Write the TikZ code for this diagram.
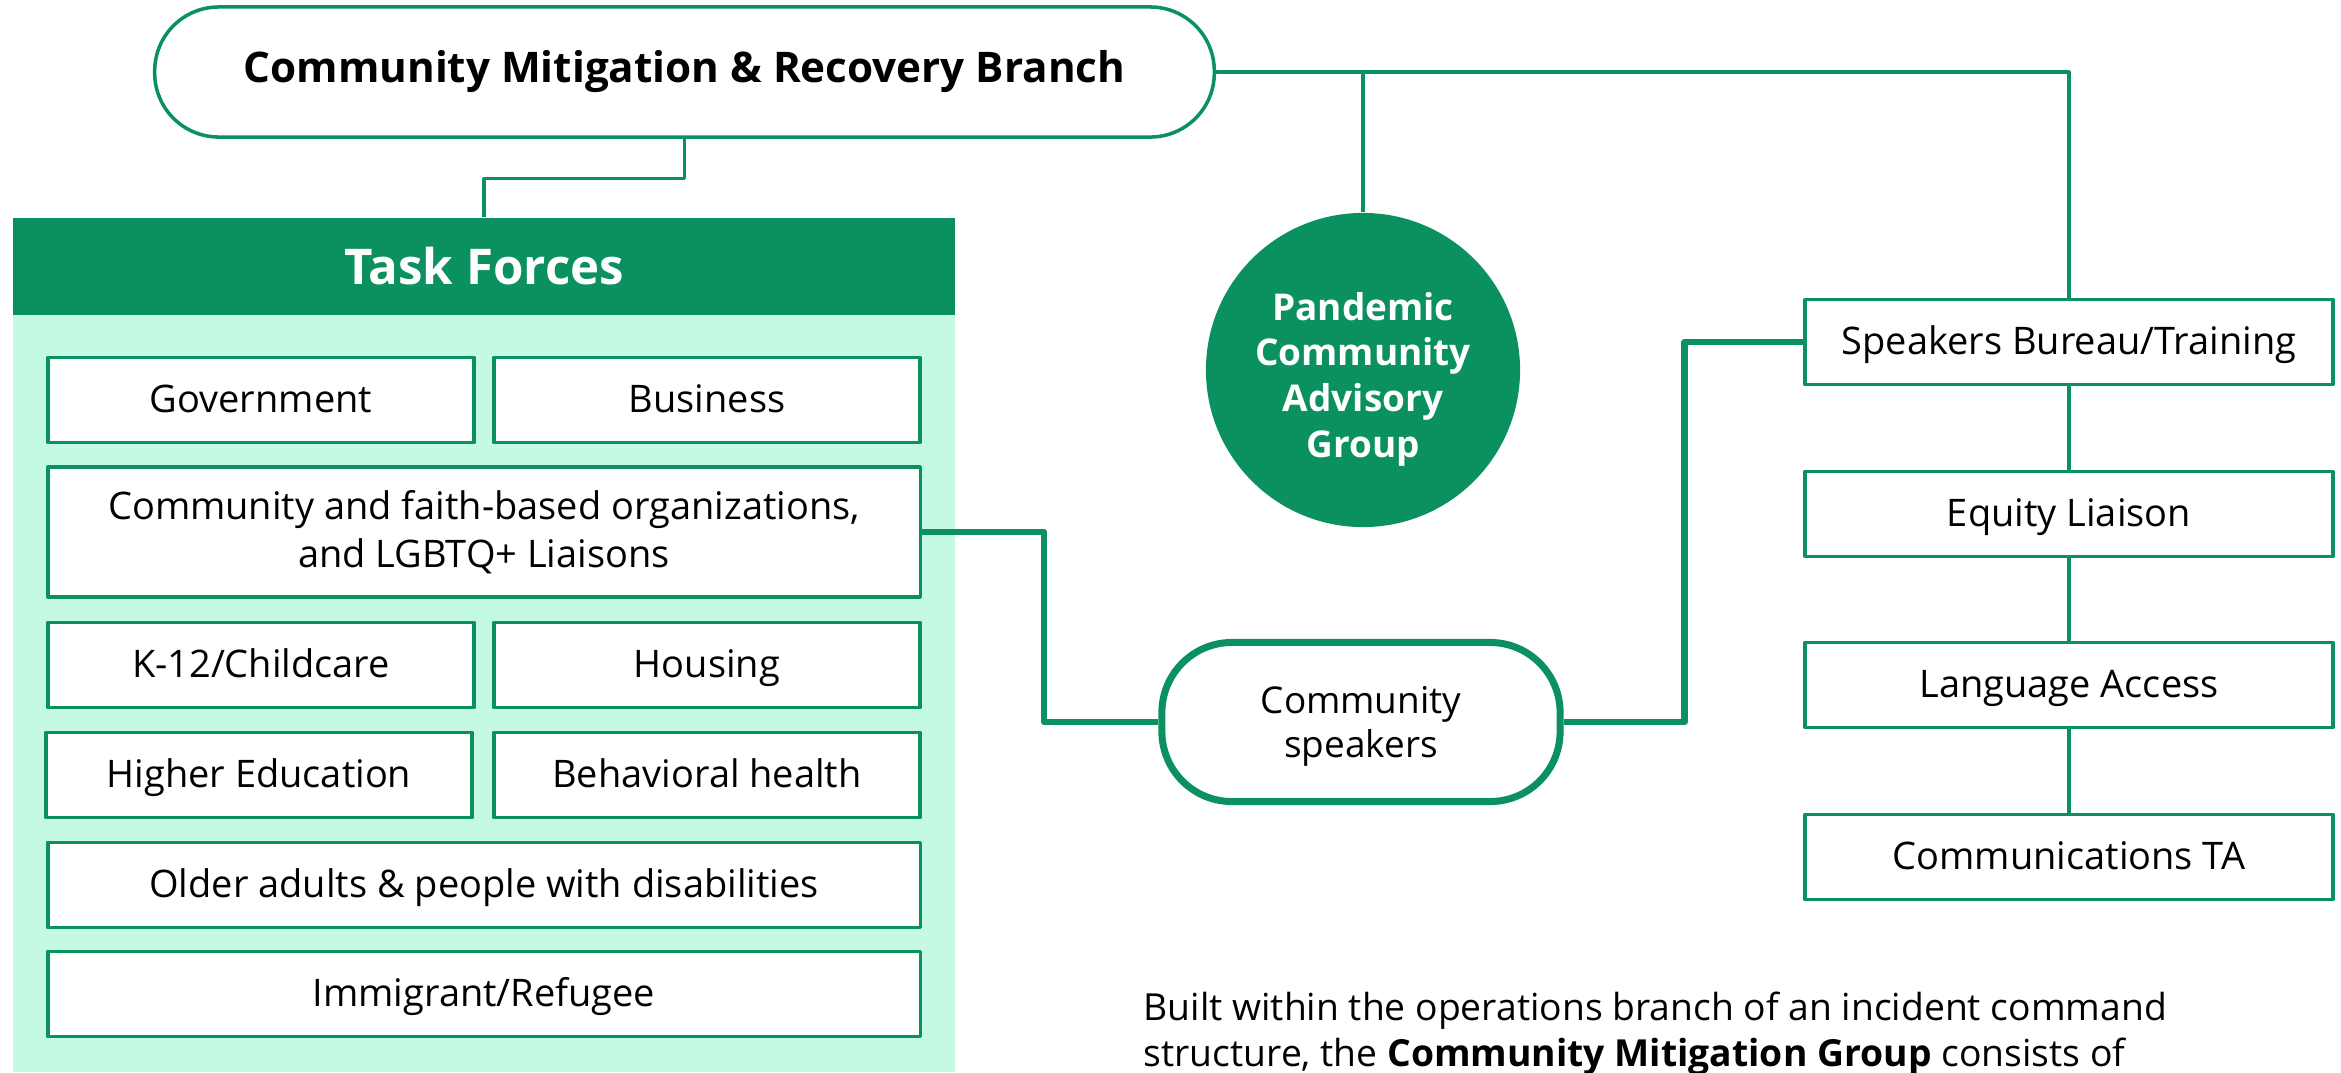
\documentclass[tikz,border=0pt]{standalone}
\usepackage{fontspec}
\setmainfont{Open Sans}
\definecolor{cmgreen}{RGB}{11,145,95}
\definecolor{cmmint}{RGB}{196,250,228}
\begin{document}
\begin{tikzpicture}[x=0.01cm,y=-0.01cm,line join=round,
		tfbox/.style={draw=cmgreen,line width=1pt,fill=white,inner sep=0pt,minimum height=0.85cm,align=center,font=\fontsize{10.8}{13.5}\selectfont},
		oneline/.style={text height=0.93em,text depth=0.2em},
		halfbox/.style={tfbox,oneline,minimum width=4.26cm},
		widebox/.style={tfbox,minimum width=8.72cm},
		sidebox/.style={tfbox,oneline,minimum width=5.28cm},
		thinlink/.style={draw=cmgreen,line width=0.9pt},
		thicklink/.style={draw=cmgreen,line width=1.8pt}]
	\useasboundingbox (0,0) rectangle (2341,1072);
	% task forces panel
	\fill [cmmint] (13,315) rectangle (955,1072);
	\node [fill=cmgreen,text=white,minimum width=9.42cm,minimum height=0.97cm,inner sep=0pt,font=\fontsize{14}{17}\selectfont\bfseries] (tfhead) at (484,266.5) {Task Forces};
	\node [halfbox] (gov) at (261,400) {Government};
	\node [halfbox] (bus) at (707,400) {Business};
	\node [widebox,minimum height=1.30cm] (cfb) at (484,532) {Community and faith-based organizations,\\and LGBTQ+ Liaisons};
	\node [halfbox] (kid) at (261,665) {K-12/Childcare};
	\node [halfbox] (hou) at (707,665) {Housing};
	\node [halfbox] (hed) at (259,775) {Higher Education};
	\node [halfbox] (beh) at (707,775) {Behavioral health};
	\node [widebox,oneline] (old) at (484,885) {Older adults \& people with disabilities};
	\node [widebox,oneline] (imm) at (484,994) {Immigrant/Refugee};
	% branch, advisory group and speakers
	\node [draw=cmgreen,line width=1pt,rounded corners=0.64cm,minimum width=10.59cm,minimum height=1.30cm,inner sep=0pt,font=\fontsize{12}{14}\selectfont\bfseries] (branch) at (684.5,72) {Community Mitigation \& Recovery Branch};
	\node [circle,fill=cmgreen,text=white,minimum size=3.14cm,inner sep=0pt,align=center,font=\fontsize{10.5}{13}\selectfont\bfseries] (pcag) at (1363,370) {\rule{0pt}{1.25em}Pandemic\\Community\\Advisory\\Group};
	\node [draw=cmgreen,line width=2pt,rounded corners=0.7cm,minimum width=3.98cm,minimum height=1.59cm,inner sep=0pt,align=center,font=\fontsize{10.5}{12.5}\selectfont] (spk) at (1361,722) {\rule{0pt}{0.95em}Community\\speakers};
	\node [sidebox] (sbt) at (2069,342) {Speakers Bureau/Training};
	\node [sidebox] (eql) at (2069,514) {Equity Liaison};
	\node [sidebox] (lac) at (2069,685) {Language Access};
	\node [sidebox] (cta) at (2069,857) {Communications TA};
	% connectors
	\draw [thinlink] (branch.south) -- ++(0,40) -| (tfhead.north);
	\draw [thinlink] (branch.east) -| (sbt.north);
	\draw [thinlink] (pcag.north) |- (branch.east);
	\foreach \a/\b in {sbt/eql,eql/lac,lac/cta}
		\draw [thinlink] (\a.south) -- (\b.north);
	\draw [thicklink] (cfb.east) -- ++(122,0) |- (spk.west);
	\draw [thicklink] (spk.east) -- ++(121,0) |- (sbt.west);
	% note
	\node [anchor=north west,inner sep=0pt,align=left,font=\fontsize{10.6}{13.1}\selectfont] (note) at (1143,991) {Built within the operations branch of an incident command\\structure, the \textbf{Community Mitigation Group} consists of};
\end{tikzpicture}
\end{document}
